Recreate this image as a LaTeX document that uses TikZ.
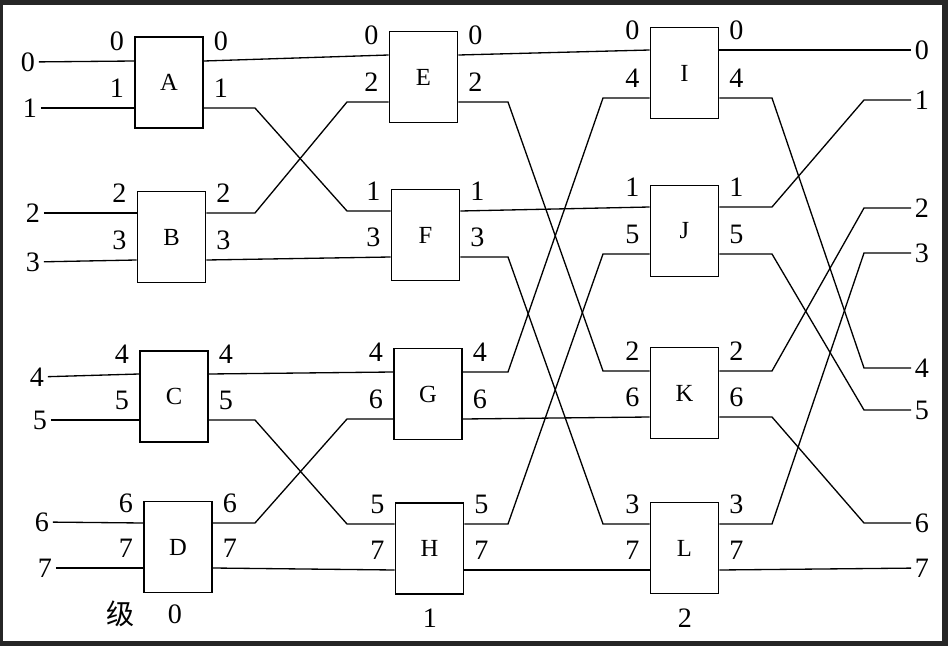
\documentclass[tikz,border=0pt]{standalone}
\usepackage{fontspec}
\setmainfont{Liberation Serif}
\newfontfamily\cjk{Noto Sans CJK SC}

\begin{document}
\begin{tikzpicture}[x=0.02cm,y=-0.02cm,
  sw/.style={draw,line width=1.1pt,minimum width=1.36cm,minimum height=1.82cm,inner sep=0pt,font=\fontsize{14}{14}\selectfont},
  wire/.style={line width=0.75pt},
  num/.style={inner sep=2pt,font=\fontsize{16}{16}\selectfont}]
\useasboundingbox (0,0) rectangle (948,646);
\fill[black!85] (0,0) rectangle (948,646);
\fill[white] (3,5) rectangle (942,641);

% switches: name/x/y/upper label/lower label/upper port/lower port
\foreach \n/\x/\y/\p/\q/\ya/\yb in {A/169/82.5/0/1/61/108, B/171.5/237/2/3/213/260,
    C/174/396.5/4/5/374/420, D/178/547/6/7/523/568,
    E/423.5/77/0/2/55/102, F/425.5/235/1/3/211/257,
    G/428/394/4/6/372/419, H/429.5/548.5/5/7/524/570,
    I/684.5/73/0/4/50/98, J/684.5/231/1/5/207/254,
    K/684.5/393/2/6/371/417, L/684.5/548/3/7/524/570}{
  \node[sw] (\n) at (\x,\y) {\n};
  \coordinate (\n-i\p) at (\n.west |- 0,\ya);
  \coordinate (\n-i\q) at (\n.west |- 0,\yb);
  \coordinate (\n-o\p) at (\n.east |- 0,\ya);
  \coordinate (\n-o\q) at (\n.east |- 0,\yb);
  \node[num,above left=3.5pt] (\n-li\p) at (\n-i\p) {\p};
  \node[num,above left=3.5pt] (\n-li\q) at (\n-i\q) {\q};
  \node[num,above right=3.5pt] (\n-lo\p) at (\n-o\p) {\p};
  \node[num,above right=3.5pt] (\n-lo\q) at (\n-o\q) {\q};
}

% inputs and outputs
\foreach \i/\x/\y in {0/28/62, 1/30/108, 2/33/213, 3/33/262, 4/37/377, 5/40/420, 6/42/522, 7/45/568}
  \node[num] (in\i) at (\x,\y) {\i};
\foreach \i/\y in {0/50, 1/100, 2/208, 3/253, 4/368, 5/410, 6/523, 7/568}
  \node[num] (out\i) at (922,\y) {\i};

% stage labels
\node[num] (ji) at (121,614) {\cjk 级};
\node[num] (st0) at (175,614) {0};
\node[num] (st1) at (430,618) {1};
\node[num] (st2) at (685,618) {2};

% bends of the crossings
\coordinate (k1) at (255,0);
\coordinate (k2) at (347,0);
\coordinate (m1) at (508,0);
\coordinate (m2) at (603,0);
\coordinate (n1) at (772,0);
\coordinate (n2) at (864,0);

\foreach \a/\b in {A/0, A/1, B/2, B/3, C/4, C/5, D/6, D/7}
  \draw[wire] (in\b) -- (\a-i\b);
\draw[wire] (A-o0) -- (E-i0);
\draw[wire] (B-o3) -- (F-i3);
\draw[wire] (C-o4) -- (G-i4);
\draw[wire] (D-o7) -- (H-i7);
\draw[wire] (E-o0) -- (I-i0);
\draw[wire] (F-o1) -- (J-i1);
\draw[wire] (G-o6) -- (K-i6);
\draw[wire] (H-o7) -- (L-i7);
\draw[wire] (I-o0) -- (out0);
\draw[wire] (L-o7) -- (out7);
\foreach \s/\t/\u/\v in {A-o1/F-i1/k1/k2, B-o2/E-i2/k1/k2, C-o5/H-i5/k1/k2, D-o6/G-i6/k1/k2,
    E-o2/K-i2/m1/m2, F-o3/L-i3/m1/m2, G-o4/I-i4/m1/m2, H-o5/J-i5/m1/m2,
    I-o4/out4/n1/n2, J-o1/out1/n1/n2, J-o5/out5/n1/n2, K-o2/out2/n1/n2,
    K-o6/out6/n1/n2, L-o3/out3/n1/n2}
  \draw[wire] (\s) -- (\s -| \u) -- (\t -| \v) -- (\t);
\end{tikzpicture}
\end{document}
